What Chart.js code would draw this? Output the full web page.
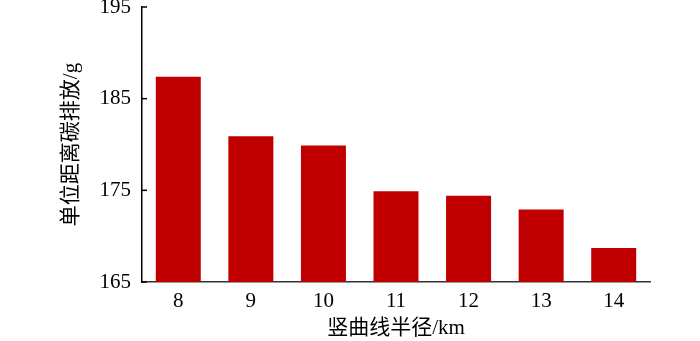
<!DOCTYPE html>
<html lang="zh">
  <head>
    <meta charset="UTF-8" />
    <script src="https://cdn.jsdelivr.net/npm/chart.js"></script>
    <title>竖曲线半径与单位距离碳排放</title>
    <style>
      html, body { margin: 0; padding: 0; background: #fff; }
      #wrap { width: 700px; height: 341px; }
    </style>
  </head>
  <body>
    <div id="wrap"><canvas id="myChart" width="700" height="341"></canvas></div>
    <script>
      // 竖曲线半径 (km) 和 单位距离碳排放 (g)
      var radius = ["8", "9", "10", "11", "12", "13", "14"];
      var emission = [187.4, 180.9, 179.9, 174.9, 174.4, 172.9, 168.7];
      var yTicks = [165, 175, 185, 195];

      var serif = "'Liberation Serif', 'Noto Sans CJK SC', serif";

      // y 轴刻度线朝内
      var innerTicks = {
        id: "innerTicks",
        afterDraw: function (chart) {
          var ctx = chart.ctx;
          var y = chart.scales.y;
          var left = chart.chartArea.left;
          ctx.save();
          ctx.strokeStyle = "#000";
          ctx.lineWidth = 1.5;
          yTicks.forEach(function (v) {
            var py = y.getPixelForValue(v);
            ctx.beginPath();
            ctx.moveTo(left, py);
            ctx.lineTo(left + 5, py);
            ctx.stroke();
          });
          ctx.restore();
        },
      };

      var ctx = document.getElementById("myChart");
      var myChart = new Chart(ctx, {
        type: "bar",
        data: {
          labels: radius,
          datasets: [
            {
              label: "单位距离碳排放",
              data: emission,
              backgroundColor: "#C00000",
              borderWidth: 0,
              categoryPercentage: 1,
              barPercentage: 0.62,
            },
          ],
        },
        options: {
          responsive: false,
          animation: false,
          layout: { padding: { left: 59, right: 50, top: 7, bottom: 0 } },
          plugins: {
            legend: { display: false },
            tooltip: { enabled: false },
          },
          scales: {
            x: {
              grid: { display: false, drawTicks: false },
              border: { display: true, color: "#333", width: 1.5 },
              ticks: {
                color: "#000",
                padding: 7,
                font: { family: serif, size: 21 },
              },
              title: {
                display: true,
                text: "竖曲线半径/km",
                color: "#000",
                padding: { top: 0, bottom: 0 },
                font: { family: serif, size: 21 },
              },
              afterFit: function (scale) {
                scale.height = 59;
              },
            },
            y: {
              min: 165,
              max: 195,
              grid: { display: false, drawTicks: false },
              border: { display: true, color: "#000", width: 1.5 },
              afterBuildTicks: function (scale) {
                scale.ticks = yTicks.map(function (v) {
                  return { value: v };
                });
              },
              ticks: {
                color: "#000",
                padding: 11,
                font: { family: serif, size: 21 },
              },
              title: {
                display: true,
                text: "单位距离碳排放/g",
                color: "#000",
                padding: { top: 0, bottom: 0 },
                font: { family: serif, size: 21 },
              },
              afterFit: function (scale) {
                scale.width = 83;
                scale.paddingTop = 0;
                scale.paddingBottom = 0;
              },
            },
          },
        },
        plugins: [innerTicks],
      });
    </script>
  </body>
</html>
